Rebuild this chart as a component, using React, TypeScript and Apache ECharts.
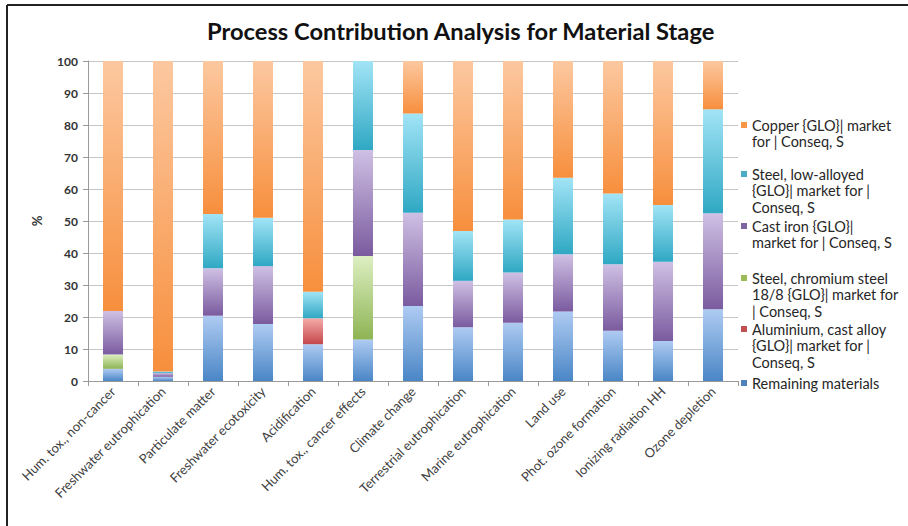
import React, { useEffect, useRef } from "react";
import * as echarts from "echarts";

const categories = [
  "Hum. tox., non-cancer",
  "Freshwater eutrophication",
  "Particulate matter",
  "Freshwater ecotoxicity",
  "Acidification",
  "Hum. tox., cancer effects",
  "Climate change",
  "Terrestrial eutrophication",
  "Marine eutrophication",
  "Land use",
  "Phot. ozone formation",
  "Ionizing radiation HH",
  "Ozone depletion",
];

const seriesNames = [
  "Remaining materials",
  "Aluminium, cast alloy {GLO}| market for | Conseq, S",
  "Steel, chromium steel 18/8 {GLO}| market for | Conseq, S",
  "Cast iron {GLO}| market for | Conseq, S",
  "Steel, low-alloyed {GLO}| market for | Conseq, S",
  "Copper {GLO}| market for | Conseq, S",
];

const legendLines = [
  ["Remaining materials"],
  ["Aluminium, cast alloy", "{GLO}| market for |", "Conseq, S"],
  ["Steel, chromium steel", "18/8 {GLO}| market for", "| Conseq, S"],
  ["Cast iron {GLO}|", "market for | Conseq, S"],
  ["Steel, low-alloyed", "{GLO}| market for |", "Conseq, S"],
  ["Copper {GLO}| market", "for | Conseq, S"],
];

const remaining = [3.8, 1.3, 20.4, 17.8, 11.5, 13.0, 23.4, 16.8, 18.2, 21.7, 15.7, 12.5, 22.4];
const aluminium = [0, 0, 0, 0, 8.1, 0, 0, 0, 0, 0, 0, 0, 0];
const chromium = [4.5, 0, 0, 0, 0, 26.1, 0, 0, 0, 0, 0, 0, 0];
const castIron = [13.6, 1.2, 14.8, 18.1, 0, 33.1, 29.2, 14.5, 15.7, 17.9, 20.8, 24.8, 30.0];
const lowAlloyed = [0, 0.5, 17.0, 15.1, 8.3, 27.8, 31.0, 15.6, 16.6, 23.9, 22.1, 17.7, 32.5];
const copper = [78.1, 97.0, 47.8, 49.0, 72.1, 0, 16.4, 53.1, 49.5, 36.5, 41.4, 45.0, 15.1];

const seriesData = [remaining, aluminium, chromium, castIron, lowAlloyed, copper];

const yTicks = { min: 0, max: 100, interval: 10 };

const gradients = [
  ["#AECBF2", "#4A86C6"],
  ["#F5ABAA", "#C4474A"],
  ["#DDEFC2", "#8EB454"],
  ["#CFC0E4", "#7A5B9F"],
  ["#A2E4F6", "#2FA8C3"],
  ["#FCC8A0", "#F78F3D"],
];
const solidColors = ["#4F81BD", "#C0504D", "#9BBB59", "#8064A2", "#4BACC6", "#F79646"];

// first-line centre (y px) of each legend entry
const legendCentres = [383, 329, 278, 226, 174, 125];

export default function App() {
  const ref = useRef<HTMLDivElement>(null);
  useEffect(() => {
    if (!ref.current) return;
    const chart = echarts.init(ref.current, undefined, { renderer: "svg" });
    const lh = 16.5;
    const legends = seriesNames.map((name, i) => {
      const n = legendLines[i].length;
      const h = (n - 1) * lh + 6;
      return {
        orient: "vertical",
        left: 741,
        top: legendCentres[i] - lh / 2,
        itemWidth: 6,
        itemHeight: h,
        padding: 0,
        icon: `path://M0 0H6V6H0Z M0 ${h}L0.01 ${h}`,
        data: [{ name, itemStyle: { color: solidColors[i] } }],
        formatter: () => legendLines[i].join("\n"),
        textStyle: {
          fontFamily: "Lato",
          fontSize: 14.5,
          color: "#262626",
          lineHeight: lh,
        },
      };
    });
    chart.setOption({
      animation: false,
      backgroundColor: "#ffffff",
      title: {
        text: "Process Contribution Analysis for Material Stage",
        left: 207,
        top: 14,
        padding: [5, 0, 5, 0],
        textStyle: { fontFamily: "Lato", fontWeight: "bold", fontSize: 23.7, color: "#111" },
      },
      legend: legends,
      grid: { left: 88, right: 170, top: 61, bottom: 145 },
      xAxis: {
        type: "category",
        data: categories,
        axisLine: { lineStyle: { color: "#9a9a9a" } },
        axisTick: { show: true, length: 5, lineStyle: { color: "#9a9a9a" } },
        axisLabel: { rotate: 45, fontFamily: "Lato", fontSize: 13, color: "#404040", margin: 8 },
      },
      yAxis: {
        type: "value",
        min: yTicks.min,
        max: yTicks.max,
        interval: yTicks.interval,
        name: "%",
        nameLocation: "middle",
        nameRotate: 90,
        nameGap: 45,
        nameTextStyle: { fontFamily: "Lato", fontSize: 13, fontWeight: "bold", color: "#333" },
        axisLine: { show: true, lineStyle: { color: "#9a9a9a" } },
        axisTick: { show: true, length: 5, lineStyle: { color: "#9a9a9a" } },
        axisLabel: { fontFamily: "Lato", fontSize: 12, fontWeight: "bold", color: "#333", margin: 10 },
        splitLine: { lineStyle: { color: "#c6c6c6" } },
      },
      series: seriesNames.map((name, i) => ({
        name,
        type: "bar",
        stack: "total",
        barWidth: 20,
        data: seriesData[i],
        itemStyle: {
          color: new echarts.graphic.LinearGradient(0, 0, 0, 1, [
            { offset: 0, color: gradients[i][0] },
            { offset: 1, color: gradients[i][1] },
          ]),
        },
      })),
      graphic: [
        { type: "line", shape: { x1: 7, y1: 5, x2: 908, y2: 5 }, style: { stroke: "#222", lineWidth: 2 } },
        { type: "line", shape: { x1: 7, y1: 5, x2: 7, y2: 526 }, style: { stroke: "#222", lineWidth: 2 } },
      ],
    });
    return () => chart.dispose();
  }, []);
  return (
    <div
      ref={ref}
      style={{ position: "absolute", left: 0, top: 0, width: 908, height: 526 }}
    />
  );
}
